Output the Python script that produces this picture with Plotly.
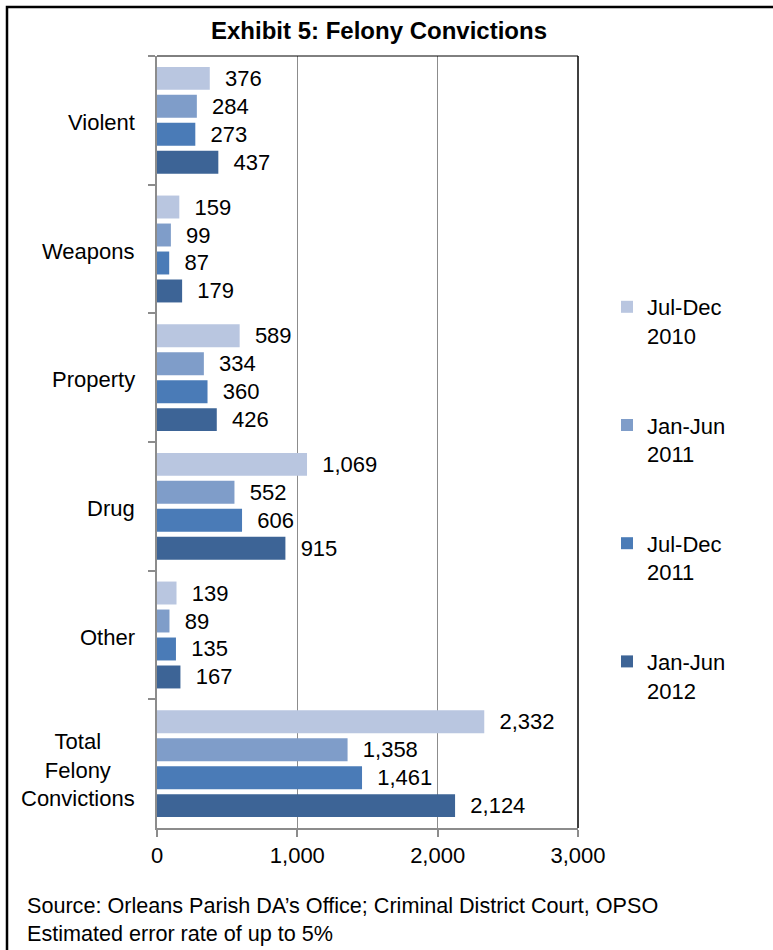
import plotly.graph_objects as go

# ---- data ----
categories = ["Violent", "Weapons", "Property", "Drug", "Other", "Total Felony Convictions"]
category_labels = ["Violent", "Weapons", "Property", "Drug", "Other", "Total<br>Felony<br>Convictions"]
series_names = ["Jul-Dec<br>2010", "Jan-Jun<br>2011", "Jul-Dec<br>2011", "Jan-Jun<br>2012"]
jul_dec_2010 = [376, 159, 589, 1069, 139, 2332]
jan_jun_2011 = [284, 99, 334, 552, 89, 1358]
jul_dec_2011 = [273, 87, 360, 606, 135, 1461]
jan_jun_2012 = [437, 179, 426, 915, 167, 2124]
x_ticks = [0, 1000, 2000, 3000]
title_text = "Exhibit 5: Felony Convictions"
source_text = "Source: Orleans Parish DA\u2019s Office; Criminal District Court, OPSO<br>Estimated error rate of up to 5%"

series_values = [jul_dec_2010, jan_jun_2011, jul_dec_2011, jan_jun_2012]
colors = ["#B9C6E0", "#7F9DC9", "#4A7BB7", "#3D6496"]

W, H = 773, 950
L, R, T, B = 157, 578, 56, 828
FONT = "Liberation Sans, Arial, sans-serif"
FS = 22


def px_x(px):
    return (px - L) / (R - L)


def px_y(py):
    return (B - py) / (B - T)


fig = go.Figure()
for i, (name, vals) in enumerate(zip(series_names, series_values)):
    fig.add_trace(go.Bar(
        y=categories, x=vals, orientation="h", name=name,
        marker=dict(color=colors[i], line=dict(width=0)),
        texttemplate="\u00a0\u00a0%{x:,}", textposition="outside",
        textfont=dict(family=FONT, size=FS, color="black"),
        constraintext="none", cliponaxis=False,
        legendgroup=f"g{i}", hoverinfo="x+name",
    ))

annotations = []
for cat, lab in zip(categories, category_labels):
    annotations.append(dict(
        x=px_x(137), xref="paper", y=cat, yref="y", text=lab,
        xanchor="right", yanchor="middle", align="center", showarrow=False,
        yshift=-6 if "<br>" in lab else -2,
        font=dict(family=FONT, size=FS, color="black"),
    ))
annotations.append(dict(
    x=px_x(25), xref="paper", y=px_y(919), yref="paper", text=source_text,
    xanchor="left", yanchor="middle", align="left", showarrow=False,
    font=dict(family=FONT, size=21.6, color="black"),
))

shapes = [
    # outer frame
    dict(type="rect", xref="paper", yref="paper",
         x0=px_x(7), x1=px_x(790), y0=px_y(970), y1=px_y(7),
         line=dict(color="black", width=2.5), fillcolor="rgba(0,0,0,0)", layer="below"),
    # top and right border of plot area
    dict(type="line", xref="paper", yref="paper", x0=0, x1=1, y0=1, y1=1,
         line=dict(color="black", width=1)),
    dict(type="line", xref="paper", yref="paper", x0=1, x1=1, y0=0, y1=1,
         line=dict(color="black", width=1.5)),
]

fig.update_layout(
    width=W, height=H,
    margin=dict(l=L, r=W - R, t=T, b=H - B, pad=0),
    paper_bgcolor="white", plot_bgcolor="white",
    barmode="group", bargap=0.13, bargroupgap=0.18,
    font=dict(family=FONT, size=FS, color="black"),
    title=dict(text="<b>" + title_text + "</b>", x=379 / W, xref="container",
               xanchor="center", y=1 - 31 / H, yref="container", yanchor="middle",
               font=dict(family=FONT, size=24, color="black")),
    showlegend=True,
    legend=dict(x=px_x(607), xanchor="left", y=px_y(286), yanchor="top",
                font=dict(family=FONT, size=FS, color="black"),
                valign="top", tracegroupgap=58, traceorder="grouped",
                bgcolor="rgba(0,0,0,0)", itemwidth=30),
    xaxis=dict(range=[0, 3000], tickvals=x_ticks, tickformat=",",
               showgrid=True, gridcolor="#8c8c8c", gridwidth=1,
               showline=True, linecolor="#8c8c8c", linewidth=2,
               ticks="outside", ticklen=7, tickcolor="#8c8c8c", tickwidth=1.5,
               zeroline=False, tickfont=dict(family=FONT, size=FS, color="black"),
               fixedrange=True),
    yaxis=dict(type="category", categoryorder="array", categoryarray=categories,
               autorange="reversed", showticklabels=False,
               showline=True, linecolor="#8c8c8c", linewidth=2,
               ticks="outside", tickson="boundaries", ticklen=7,
               tickcolor="#8c8c8c", tickwidth=1.5, showgrid=False, fixedrange=True),
    annotations=annotations, shapes=shapes,
)

fig.write_html("out.html")
